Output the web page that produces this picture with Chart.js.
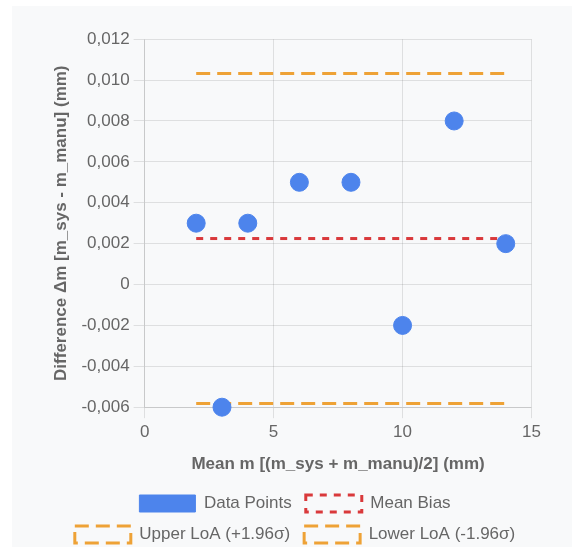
<!DOCTYPE html>
<html>
<head>
<meta charset="utf-8">
<script src="https://cdn.jsdelivr.net/npm/chart.js@4/dist/chart.umd.min.js"></script>
<style>
  html, body { margin: 0; padding: 0; background: #fff; overflow: hidden; }
  .panel { position: absolute; left: 12px; top: 6px; width: 560px; height: 541px; background: #f8f9fa; }
  .chart-box { position: absolute; left: 45px; top: 25px; width: 500px; height: 528px; }
</style>
</head>
<body>
<div class="panel"></div>
<div class="chart-box"><canvas id="blandAltman"></canvas></div>
<script>
// Bland-Altman data: mean of both methods vs. difference
const meanValues = [2, 3, 4, 6, 8, 10, 12, 14];
const diffValues = [0.003, -0.006, 0.003, 0.005, 0.005, -0.002, 0.008, 0.002];

// bias and limits of agreement
const meanBias = 0.00225;
const upperLoA = 0.01032;
const lowerLoA = -0.00582;

const xTickRange = [0, 15];
const yTickRange = [-0.006, 0.012];

const lineStart = Math.min(...meanValues);
const lineEnd = Math.max(...meanValues);

const fontFamily = "'Helvetica Neue', Helvetica, Arial, sans-serif";

function hLine(value) {
  return [
    { x: lineStart, y: value },
    { x: lineEnd, y: value },
  ];
}

new Chart(document.getElementById("blandAltman"), {
  type: "scatter",
  data: {
    datasets: [
      {
        label: "Data Points",
        data: meanValues.map((m, i) => ({ x: m, y: diffValues[i] })),
        backgroundColor: "#4d84ec",
        borderColor: "#4d84ec",
        borderWidth: 1,
        pointRadius: 9,
        pointHoverRadius: 9,
        clip: false,
      },
      {
        label: "Mean Bias",
        type: "line",
        data: hLine(meanBias),
        borderColor: "#d9393b",
        backgroundColor: "transparent",
        borderWidth: 3,
        borderDash: [7, 7],
        pointRadius: 0,
        fill: false,
      },
      {
        label: "Upper LoA (+1.96σ)",
        type: "line",
        data: hLine(upperLoA),
        borderColor: "#eea236",
        backgroundColor: "transparent",
        borderWidth: 3,
        borderDash: [14, 7],
        pointRadius: 0,
        fill: false,
      },
      {
        label: "Lower LoA (-1.96σ)",
        type: "line",
        data: hLine(lowerLoA),
        borderColor: "#eea236",
        backgroundColor: "transparent",
        borderWidth: 3,
        borderDash: [14, 7],
        pointRadius: 0,
        fill: false,
      },
    ],
  },
  options: {
    responsive: true,
    maintainAspectRatio: false,
    animation: false,
    locale: "de-DE",
    layout: { padding: 0 },
    plugins: {
      legend: {
        position: "bottom",
        labels: {
          font: { family: fontFamily, size: 17 },
          color: "#666",
          boxWidth: 56,
          boxHeight: 17,
          padding: 14,
        },
      },
      tooltip: { enabled: false },
    },
    scales: {
      x: {
        type: "linear",
        min: xTickRange[0],
        max: xTickRange[1],
        ticks: {
          stepSize: 5,
          color: "#666",
          padding: 4,
          font: { family: fontFamily, size: 17 },
        },
        grid: { tickLength: 11 },
        title: {
          display: true,
          text: "Mean m [(m_sys + m_manu)/2] (mm)",
          color: "#666",
          padding: { top: 8, bottom: 6 },
          font: { family: fontFamily, size: 17, weight: "bold" },
        },
      },
      y: {
        min: yTickRange[0],
        max: yTickRange[1],
        ticks: {
          stepSize: 0.002,
          color: "#666",
          padding: 4,
          font: { family: fontFamily, size: 17 },
        },
        grid: { tickLength: 11 },
        title: {
          display: true,
          text: "Difference Δm [m_sys - m_manu] (mm)",
          color: "#666",
          padding: { top: 6, bottom: 6 },
          font: { family: fontFamily, size: 17, weight: "bold" },
        },
      },
    },
  },
});
</script>
</body>
</html>
